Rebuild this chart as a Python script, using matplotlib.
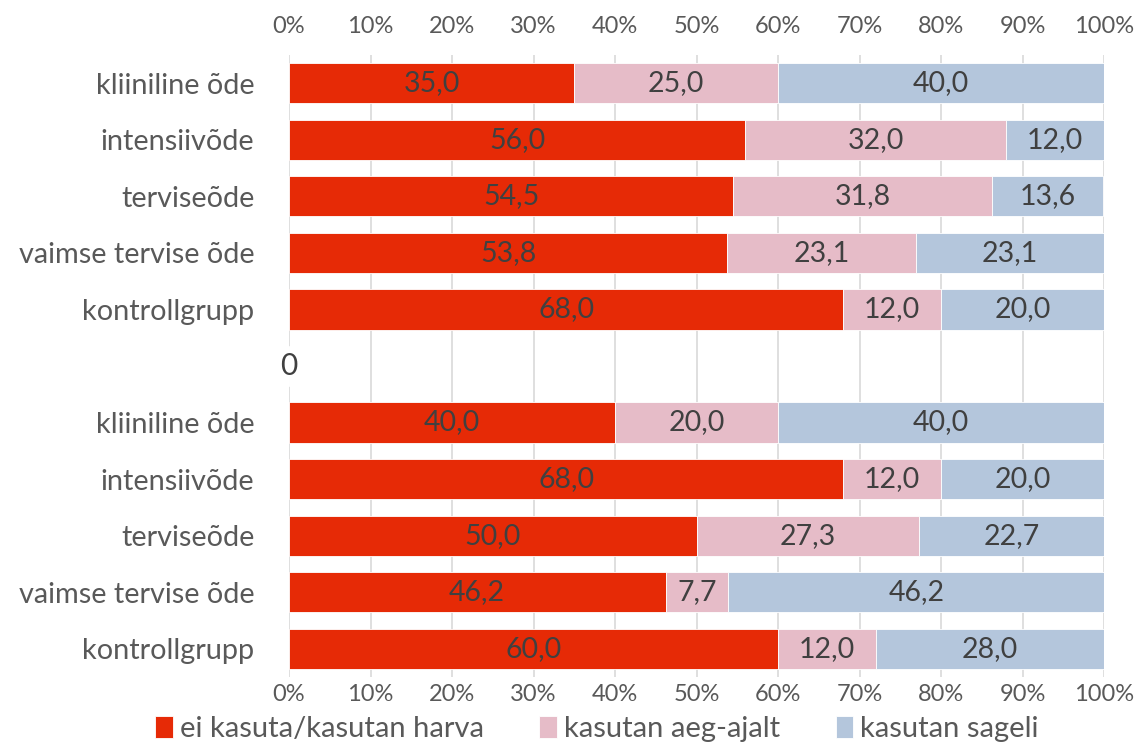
import matplotlib.pyplot as plt
import numpy as np

rows = ["kliiniline õde", "intensiivõde", "terviseõde", "vaimse tervise õde", "kontrollgrupp",
        "",
        "kliiniline õde", "intensiivõde", "terviseõde", "vaimse tervise õde", "kontrollgrupp"]
harva = [35.0, 56.0, 54.5, 53.8, 68.0, None, 40.0, 68.0, 50.0, 46.2, 60.0]
aeg_ajalt = [25.0, 32.0, 31.8, 23.1, 12.0, None, 20.0, 12.0, 27.3, 7.7, 12.0]
sageli = [40.0, 12.0, 13.6, 23.1, 20.0, None, 40.0, 20.0, 22.7, 46.2, 28.0]
series_names = ["ei kasuta/kasutan harva", "kasutan aeg-ajalt", "kasutan sageli"]
colors = ["#E62A06", "#E6BCC8", "#B4C6DC"]

plt.rcParams['font.family'] = ['Lato', 'DejaVu Sans']

fig = plt.figure(figsize=(11.48, 7.49), dpi=100)
ax = fig.add_axes([289 / 1148, 1 - 677 / 749, 815 / 1148, 622 / 749])

y = np.arange(len(rows))
left = np.zeros(len(rows))
for vals, name, col in zip([harva, aeg_ajalt, sageli], series_names, colors):
    v = np.array([np.nan if a is None else a for a in vals])
    w = np.nan_to_num(v)
    ax.barh(y, w, left=left, height=0.71, color=col, label=name,
            edgecolor='white', linewidth=0.6, zorder=2)
    for i in range(len(rows)):
        if not np.isnan(v[i]):
            ax.text(left[i] + w[i] / 2, y[i], f"{v[i]:.1f}".replace('.', ','),
                    ha='center', va='center', fontsize=20.5, color='#404040', zorder=3)
    left = left + w

ax.set_xlim(0, 100)
ax.set_ylim(len(rows) - 0.5, -0.5)
ax.set_yticks(y)
ax.set_yticklabels(rows)
ax.tick_params(axis='y', length=0, pad=25, labelsize=20.8, labelcolor='#595959')
ax.set_xticks(np.arange(0, 101, 10))
ax.set_xticklabels([f"{t}%" for t in range(0, 101, 10)])
ax.tick_params(axis='x', length=0, pad=5, labelsize=17, labelcolor='#595959')
top = ax.secondary_xaxis('top')
top.set_xticks(np.arange(0, 101, 10))
top.set_xticklabels([f"{t}%" for t in range(0, 101, 10)])
top.tick_params(length=0, pad=13, labelsize=17, labelcolor='#595959')
top.spines['top'].set_visible(False)

for s in ax.spines.values():
    s.set_visible(False)
ax.grid(axis='x', color='#D9D9D9', linewidth=1.2, zorder=0)
ax.set_axisbelow(True)

ax.text(0, 5, "0", ha='center', va='center', fontsize=21.5, color='#404040')

fig.legend(loc='lower center', bbox_to_anchor=(0.52, -0.026), ncol=3, frameon=False,
           fontsize=21, handlelength=0.6, handleheight=0.75, handletextpad=0.25,
           columnspacing=1.9, labelcolor='#595959')

fig.savefig("out.png", dpi=100)
